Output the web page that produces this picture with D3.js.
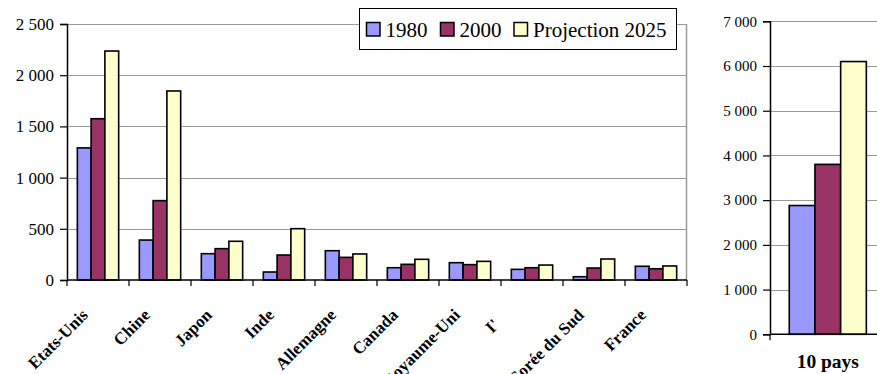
<!DOCTYPE html>
<html>
<head>
<meta charset="utf-8">
<script src="https://cdn.jsdelivr.net/npm/d3@7"></script>
<style>
  html, body { margin: 0; padding: 0; background: #fff; }
  svg, svg text { font-family: "Liberation Serif", "Times New Roman", serif; }
</style>
</head>
<body>
<svg id="chart" width="877" height="374"></svg>
<script>
// Consommation par pays (1980, 2000, projection 2025)
const categories = ["Etats-Unis", "Chine", "Japon", "Inde", "Allemagne", "Canada",
                    "Royaume-Uni", "I'", "Corée du Sud", "France"];
const seriesNames = ["1980", "2000", "Projection 2025"];
const v1980 = [1290, 390, 257, 78, 286, 120, 169, 104, 32, 134];
const v2000 = [1575, 775, 306, 244, 221, 153, 150, 120, 117, 110];
const v2025 = [2236, 1846, 378, 501, 254, 202, 182, 146, 205, 137];

// Total des 10 pays
const totalCategory = ["10 pays"];
const total1980 = [2880];
const total2000 = [3800];
const total2025 = [6100];

const leftTicks = [0, 500, 1000, 1500, 2000, 2500];
const rightTicks = [0, 1000, 2000, 3000, 4000, 5000, 6000, 7000];

const colors = ["#9999ff", "#993366", "#ffffcc"];
const serif = "'Liberation Serif', 'Times New Roman', serif";

const svg = d3.select("#chart");
const fmt = d3.formatLocale({ decimal: ",", thousands: "\u00a0", grouping: [3], currency: ["", ""] }).format(",");

function drawPanel(opts) {
  const { cats, series, yMax, ticks, x0, x1, yTop, yBottom, gridRight, tickFont, borderRight } = opts;
  const g = svg.append("g");
  const x = d3.scaleBand().domain(cats).range([x0, x1]).paddingInner(0).paddingOuter(0);
  const xi = d3.scaleBand().domain(seriesNames).range([0, x.bandwidth()]).paddingInner(0).paddingOuter(0.75);
  const y = d3.scaleLinear().domain([0, yMax]).range([yBottom, yTop]);

  // gridlines
  g.append("g").selectAll("line").data(ticks.filter(t => t > 0)).join("line")
    .attr("x1", x0).attr("x2", gridRight)
    .attr("y1", d => Math.round(y(d)) + 0.5).attr("y2", d => Math.round(y(d)) + 0.5)
    .attr("stroke", "#9a9a9a").attr("stroke-width", 1);
  if (borderRight) {
    g.append("line").attr("x1", gridRight - 0.5).attr("x2", gridRight - 0.5)
      .attr("y1", y(yMax)).attr("y2", yBottom)
      .attr("stroke", "#9a9a9a").attr("stroke-width", 1.5);
  }

  // bars
  const rows = [];
  cats.forEach((c, i) => series.forEach((s, j) => rows.push({ c, s: seriesNames[j], v: s[i], j })));
  g.append("g").selectAll("rect").data(rows).join("rect")
    .attr("x", d => x(d.c) + xi(d.s))
    .attr("y", d => y(d.v))
    .attr("width", xi.bandwidth())
    .attr("height", d => yBottom - y(d.v))
    .attr("fill", d => colors[d.j])
    .attr("stroke", "#000").attr("stroke-width", 1.6);

  // y axis
  const ya = g.append("g").attr("transform", `translate(${x0},0)`)
    .call(d3.axisLeft(y).tickValues(ticks).tickFormat(fmt).tickSize(7).tickPadding(6));
  ya.attr("font-family", null);
  ya.select(".domain").attr("stroke", "#000").attr("stroke-width", 1.5);
  ya.selectAll(".tick line").attr("stroke", "#000").attr("stroke-width", 1.2);
  ya.selectAll("text").style("font-family", serif).style("font-size", tickFont).attr("fill", "#000");

  // x axis
  const xa = g.append("g").attr("transform", `translate(0,${yBottom})`);
  xa.append("line").attr("x1", x0).attr("x2", Math.min(x1, 877)).attr("y1", 0).attr("y2", 0)
    .attr("stroke", "#000").attr("stroke-width", 1.5);
  const bounds = cats.map(c => x(c)).concat([x1]).filter(v => v <= 877);
  xa.selectAll("line.tk").data(bounds).join("line").attr("class", "tk")
    .attr("x1", d => d).attr("x2", d => d).attr("y1", 0).attr("y2", 6)
    .attr("stroke", "#000").attr("stroke-width", 1.2);

  return { x, y, g, xa };
}

// Panneau gauche : par pays
const left = drawPanel({
  cats: categories, series: [v1980, v2000, v2025], yMax: 2500, ticks: leftTicks,
  x0: 67, x1: 687, yTop: 24, yBottom: 280, gridRight: 687,
  tickFont: "17px", borderRight: true
});
left.xa.selectAll("text.cat").data(categories).join("text").attr("class", "cat")
  .attr("transform", d => `translate(${left.x(d) + left.x.bandwidth() / 2 - 9},36) rotate(-45)`)
  .attr("dx", d => d === "I'" ? -23 : 0)
  .attr("dy", d => d === "I'" ? -9 : 0)
  .attr("text-anchor", "end")
  .style("font-family", serif).style("font-weight", "bold").style("font-size", "17px")
  .text(d => d);

// Panneau droit : total
const right = drawPanel({
  cats: totalCategory, series: [total1980, total2000, total2025], yMax: 7000, ticks: rightTicks,
  x0: 770, x1: 885.6, yTop: 21.3, yBottom: 334.3, gridRight: 877,
  tickFont: "15px", borderRight: false
});
right.xa.selectAll("text.cat").data(totalCategory).join("text").attr("class", "cat")
  .attr("x", d => right.x(d) + right.x.bandwidth() / 2)
  .attr("y", 34)
  .attr("text-anchor", "middle")
  .style("font-family", serif).style("font-weight", "bold").style("font-size", "19.5px")
  .text(d => d);

// Légende
const legend = svg.append("g");
legend.append("rect").attr("x", 359.5).attr("y", 8.5).attr("width", 317).attr("height", 41)
  .attr("fill", "#fff").attr("stroke", "#000").attr("stroke-width", 1);
const legendX = [366, 440, 513.5];
const items = legend.selectAll("g.item").data(seriesNames).join("g").attr("class", "item")
  .attr("transform", (d, i) => `translate(${legendX[i]},0)`);
items.append("rect").attr("x", 0.5).attr("y", 22.5).attr("width", 13.5).attr("height", 13.5)
  .attr("fill", (d, i) => colors[i]).attr("stroke", "#000").attr("stroke-width", 1.5);
items.append("text").attr("x", 19.5).attr("y", 36.5)
  .style("font-family", serif).style("font-size", "21px").attr("fill", "#000").text(d => d);
</script>
</body>
</html>
